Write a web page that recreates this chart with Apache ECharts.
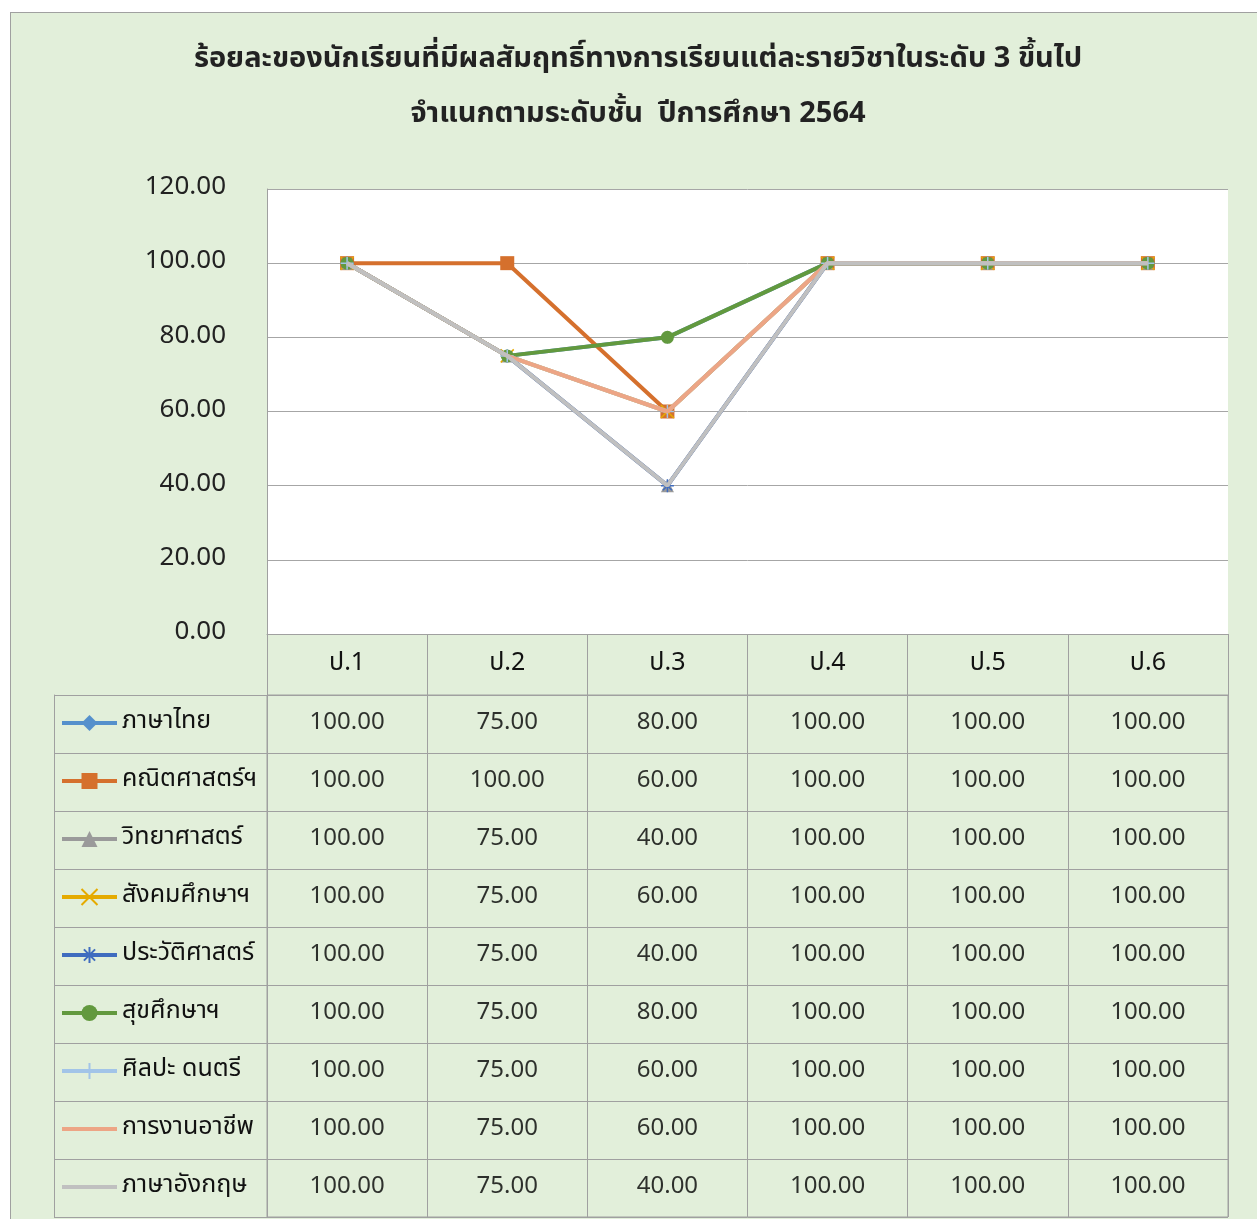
<!DOCTYPE html>
<html>
<head>
<meta charset="utf-8">
<script src="https://cdn.jsdelivr.net/npm/echarts@6/dist/echarts.min.js"></script>
<style>
  html, body { margin: 0; padding: 0; background: #fff; overflow: hidden; }
  #frame { position: absolute; left: 10px; top: 12px; width: 1260px; height: 1220px;
           background: #e2efda; border: 1px solid #a0a0a0; }
  #chart { position: absolute; left: 0; top: 0; width: 1257px; height: 1219px; }
</style>
</head>
<body>
<div id="frame"></div>
<div id="chart"></div>
<script>
// ข้อมูล
const grades = ["ป.1", "ป.2", "ป.3", "ป.4", "ป.5", "ป.6"];
const subjects = ["ภาษาไทย", "คณิตศาสตร์ฯ", "วิทยาศาสตร์", "สังคมศึกษาฯ", "ประวัติศาสตร์",
  "สุขศึกษาฯ", "ศิลปะ ดนตรี", "การงานอาชีพ", "ภาษาอังกฤษ"];
const thai = [100, 75, 80, 100, 100, 100];
const math = [100, 100, 60, 100, 100, 100];
const science = [100, 75, 40, 100, 100, 100];
const social = [100, 75, 60, 100, 100, 100];
const history = [100, 75, 40, 100, 100, 100];
const health = [100, 75, 80, 100, 100, 100];
const arts = [100, 75, 60, 100, 100, 100];
const career = [100, 75, 60, 100, 100, 100];
const english = [100, 75, 40, 100, 100, 100];
const yTicks = [0, 20, 40, 60, 80, 100, 120];

const values = [thai, math, science, social, history, health, arts, career, english];
const colors = ["#5590cc", "#d5702d", "#9a9a9a", "#e5ab00", "#3f6cbf", "#62993e", "#a2c4e8", "#eda585", "#c0c0c0"];
const symbols = [
  "diamond", "rect", "triangle",
  "path://M0,0L10,10M10,0L0,10",
  "path://M5,0L5,10M0,5L10,5M1.5,1.5L8.5,8.5M8.5,1.5L1.5,8.5",
  "circle",
  "path://M5,0L5,10M0,5L10,5",
  "none", "none"
];
const strokeOnly = [false, false, false, true, true, false, true, false, false];
// ไอคอนเส้นเปล่าสำหรับซีรีส์ที่ไม่มีสัญลักษณ์
const plainLineIcon = "path://M0,0L0.01,0M0,8L55,8L55,12L0,12ZM0,20L0.01,20";

const FONT = "Tahoma, 'Noto Sans Thai', 'Noto Sans', sans-serif";
const gray = "#a0a0a0";

let chart = echarts.init(document.getElementById("chart"), null, { renderer: "canvas" });

const lineSeries = subjects.map((name, i) => ({
  name: name,
  type: "line",
  xAxisIndex: 0,
  yAxisIndex: 0,
  data: values[i],
  symbol: symbols[i],
  symbolSize: strokeOnly[i] ? 13 : (symbols[i] === "rect" ? 14 : 13),
  showSymbol: symbols[i] !== "none",
  lineStyle: { color: colors[i], width: 4 },
  itemStyle: strokeOnly[i]
    ? { color: "rgba(0,0,0,0)", borderColor: colors[i], borderWidth: 1.5 }
    : { color: colors[i] },
  z: 2 + i,
}));

// ตัวเลขในตาราง
const cellData = [];
values.forEach((row, i) => row.forEach((v, j) => cellData.push([j, i, v])));

chart.setOption({
  animation: false,
  textStyle: { fontFamily: FONT },
  title: [
    {
      text: "ร้อยละของนักเรียนที่มีผลสัมฤทธิ์ทางการเรียนแต่ละรายวิชาในระดับ 3 ขึ้นไป",
      left: 633, top: 42, textAlign: "center",
      textStyle: { fontSize: 29, fontWeight: "bold", color: "#222", fontFamily: FONT },
    },
    {
      text: "จำแนกตามระดับชั้น  ปีการศึกษา 2564",
      left: 633, top: 97, textAlign: "center",
      textStyle: { fontSize: 29, fontWeight: "bold", color: "#222", fontFamily: FONT },
    },
  ],
  legend: {
    data: subjects.map((name, i) => symbols[i] === "none" ? { name: name, icon: plainLineIcon } : { name: name }),
    orient: "vertical",
    left: 60,
    top: 710,
    padding: 0,
    itemWidth: 55,
    itemHeight: 20,
    itemGap: 32,
    lineStyle: { width: 4 },
    textStyle: { fontSize: 25, lineHeight: 26, color: "#111", fontFamily: FONT },
  },
  grid: [
    { left: 267, right: 29, top: 189, height: 445, show: true, backgroundColor: "#fff", borderWidth: 0 },
    { left: 267, right: 29, top: 695, height: 522, show: true, backgroundColor: "transparent", borderColor: gray, borderWidth: 1 },
  ],
  xAxis: [
    {
      gridIndex: 0, type: "category", data: grades,
      axisLine: { lineStyle: { color: gray } },
      axisTick: { show: true, length: 61, interval: 0, lineStyle: { color: gray } },
      axisLabel: { fontSize: 25, color: "#111", margin: 18, fontFamily: FONT },
    },
    {
      gridIndex: 1, type: "category", data: grades,
      axisLine: { show: false }, axisTick: { show: false }, axisLabel: { show: false },
      splitLine: { show: true, interval: 0, lineStyle: { color: gray } },
    },
  ],
  yAxis: [
    {
      gridIndex: 0, type: "value", min: 0, max: 120, interval: 20,
      axisLine: { show: true, lineStyle: { color: gray } },
      axisTick: { show: false },
      axisLabel: { fontSize: 26, color: "#222", margin: 41, fontFamily: FONT,
        formatter: (v) => yTicks.includes(v) ? v.toFixed(2) : "" },
      splitLine: { lineStyle: { color: "#a6a6a6" } },
    },
    {
      gridIndex: 1, type: "category", data: subjects, inverse: true,
      axisLine: { show: false },
      axisTick: { show: true, length: 213, interval: 0, lineStyle: { color: gray } },
      axisLabel: { show: false },
      splitLine: { show: true, interval: 0, lineStyle: { color: gray } },
    },
    {
      // เส้นขอบซ้ายของคอลัมน์ชื่อวิชา
      gridIndex: 1, type: "category", data: subjects, position: "left", offset: 213,
      axisLine: { show: true, lineStyle: { color: gray } },
      axisTick: { show: false }, axisLabel: { show: false }, splitLine: { show: false },
    },
  ],
  series: [
    ...lineSeries,
    {
      name: "table",
      type: "scatter",
      xAxisIndex: 1,
      yAxisIndex: 1,
      data: cellData,
      symbolSize: 0,
      silent: true,
      label: {
        show: true, position: "inside", fontSize: 24, color: "#000", fontFamily: FONT,
        formatter: (p) => p.value[2].toFixed(2),
      },
    },
  ],
});
</script>
</body>
</html>
